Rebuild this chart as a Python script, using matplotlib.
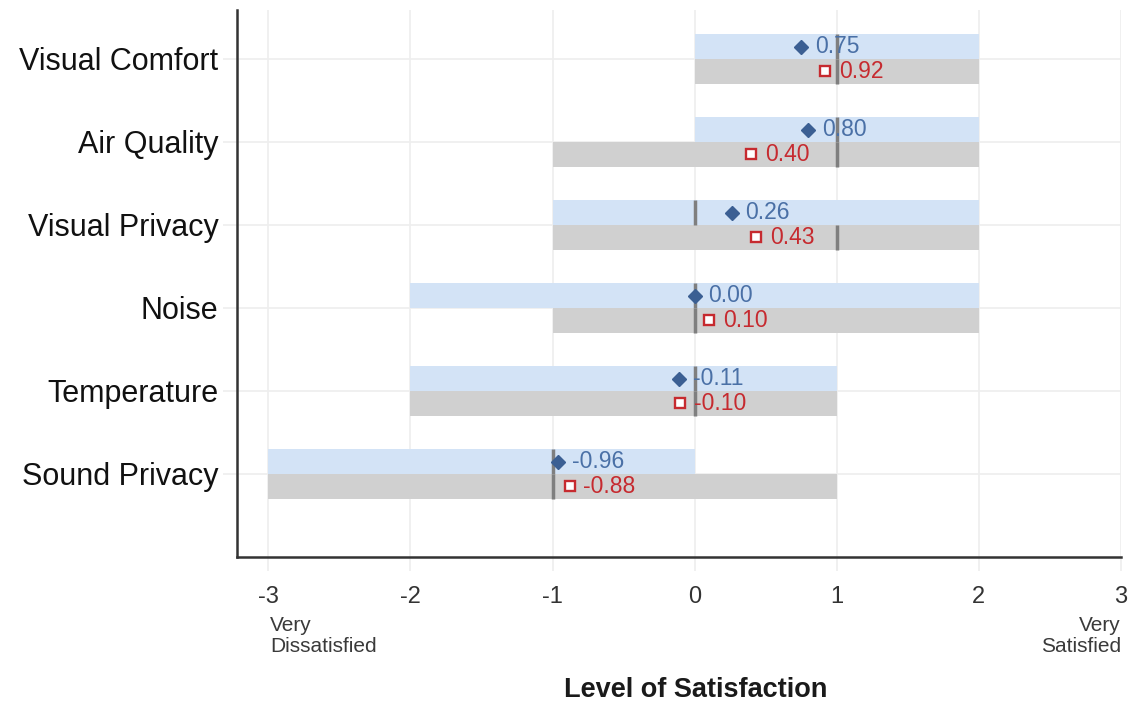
import matplotlib
matplotlib.use("Agg")
import matplotlib.pyplot as plt
from matplotlib import font_manager

categories = ["Visual Comfort", "Air Quality", "Visual Privacy", "Noise", "Temperature", "Sound Privacy"]
blue_low = [0, 0, -1, -2, -2, -3]
blue_high = [2, 2, 2, 2, 1, 0]
blue_median = [1, 1, 0, 0, 0, -1]
blue_mean = [0.75, 0.80, 0.26, 0.00, -0.11, -0.96]
gray_low = [0, -1, -1, -1, -2, -3]
gray_high = [2, 2, 2, 2, 1, 1]
gray_median = [1, 1, 1, 0, 0, -1]
red_mean = [0.92, 0.40, 0.43, 0.10, -0.10, -0.88]
xticks = [-3, -2, -1, 0, 1, 2, 3]

names = {f.name for f in font_manager.fontManager.ttflist}
narrow = "Liberation Sans Narrow" if "Liberation Sans Narrow" in names else "Liberation Sans"
base = "Liberation Sans"

fig = plt.figure(figsize=(11.35, 7.04), dpi=100)
ax = fig.add_axes([237/1135, 1-557/704, (1121-237)/1135, (557-10)/704])

n = len(categories)
ys = [n - 1 - i for i in range(n)]
h = 0.30

BLUE_BAR = "#d3e3f6"
GRAY_BAR = "#d0d0d0"
MED = "#7f7f7f"
DIAM = "#3b5f93"
BLUE_TXT = "#4a70a6"
RED = "#c62a2f"

for i, y in enumerate(ys):
    ax.barh(y + h/2, blue_high[i] - blue_low[i], left=blue_low[i], height=h,
            color=BLUE_BAR, zorder=2, linewidth=0)
    ax.barh(y - h/2, gray_high[i] - gray_low[i], left=gray_low[i], height=h,
            color=GRAY_BAR, zorder=2, linewidth=0)
    ax.plot([blue_median[i]]*2, [y, y + h], color=MED, lw=2.5, zorder=3, solid_capstyle='butt')
    ax.plot([gray_median[i]]*2, [y - h, y], color=MED, lw=2.5, zorder=3, solid_capstyle='butt')
    ax.plot(blue_mean[i], y + h/2, marker='D', ms=7.5, color=DIAM, zorder=4, ls='none')
    ax.plot(red_mean[i], y - h/2, marker='s', ms=7, mfc='white', mec=RED, mew=1.7, zorder=4, ls='none')
    ax.annotate(f"{blue_mean[i]:.2f}", (blue_mean[i], y + h/2), xytext=(10, 0),
                textcoords='offset points', va='center', ha='left', color=BLUE_TXT,
                fontsize=16.5, family=narrow, zorder=5)
    ax.annotate(f"{red_mean[i]:.2f}", (red_mean[i], y - h/2), xytext=(10, 0),
                textcoords='offset points', va='center', ha='left', color=RED,
                fontsize=16.5, family=narrow, zorder=5)

ax.set_xlim(-3.22, 3.0)
ax.set_ylim(-1.0, 5.59)
ax.set_yticks(ys)
ax.set_yticklabels(categories, fontsize=22, family=base, color="#111111")
ax.set_xticks(xticks)
ax.set_xticklabels([str(t) for t in xticks], fontsize=17, family=narrow, color="#333333")
ax.grid(True, color="#eeeeee", lw=1.2, zorder=0)
ax.set_axisbelow(True)
ax.tick_params(axis='both', length=10, color="#eeeeee", width=1.2)
ax.tick_params(axis='x', pad=11)
ax.tick_params(axis='y', pad=3.5)
for s in ["top", "right"]:
    ax.spines[s].set_visible(False)
for s in ["left", "bottom"]:
    ax.spines[s].set_color("#333333")
    ax.spines[s].set_linewidth(1.8)

fig.text(270/1135, 1-616/704, "Very\nDissatisfied", ha='left', va='top', fontsize=15,
         family=narrow, color="#3a3a3a", linespacing=1.1)
fig.text(1121/1135, 1-616/704, "Very\nSatisfied", ha='right', va='top', fontsize=15,
         family=narrow, color="#3a3a3a", linespacing=1.1, multialignment='right')
fig.text(696/1135, 1-690/704, "Level of Satisfaction", ha='center', va='center', fontsize=19.5,
         family=narrow, fontweight='bold', color="#1a1a1a")

fig.savefig("out.png", dpi=100, facecolor='white')
